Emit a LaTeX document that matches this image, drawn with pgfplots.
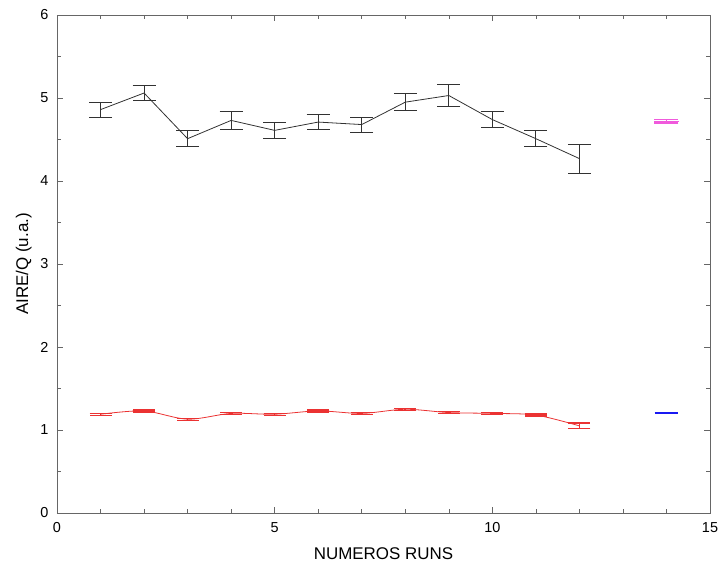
\documentclass[border=0pt]{standalone}
\usepackage{pgfplots}
\pgfplotsset{compat=1.18}
\usepackage{fontspec}
\setmainfont{Liberation Sans}
\definecolor{darkln}{RGB}{50,50,50}
\definecolor{redln}{RGB}{235,50,50}
\definecolor{magln}{RGB}{240,90,220}
\definecolor{bluepnt}{rgb}{0.1,0.1,0.95}
\begin{document}
\begin{tikzpicture}
\begin{axis}[
  at={(0,0)}, anchor=south west,
  scale only axis, width=653bp, height=498bp,
  xmin=0, xmax=15, ymin=0, ymax=6,
  xtick={0,5,10,15}, ytick={0,1,2,3,4,5,6},
  minor xtick={1,2,3,4,6,7,8,9,11,12,13,14},
  minor ytick={0.5,1.5,2.5,3.5,4.5,5.5},
  tick align=inside,
  major tick length=6bp, minor tick length=4bp,
  axis line style={draw=gray!80!black, line width=0.8pt},
  every tick/.style={gray!80!black, line width=0.6pt},
  /pgf/number format/assume math mode=true,
  tick label style={font=\fontsize{14.5}{16}\selectfont},
  xticklabel style={yshift=-6bp},
  yticklabel style={xshift=-5bp},
  label style={font=\fontsize{17}{19}\selectfont},
  xlabel={NUMEROS RUNS},
  ylabel={AIRE/Q (u.a.)},
  xlabel style={yshift=-8bp},
  ylabel style={yshift=2bp},
  clip=false,
]
% black series
\addplot[darkln, line width=0.8pt, mark=none,
  error bars/.cd, y dir=both, y explicit,
  error bar style={darkln, line width=0.8pt},
  error mark options={rotate=90, mark size=11.5bp, line width=0.8pt, darkln}]
coordinates {
 (1,4.86) +- (0,0.09)
 (2,5.06) +- (0,0.09)
 (3,4.51) +- (0,0.095)
 (4,4.73) +- (0,0.11)
 (5,4.61) +- (0,0.094)
 (6,4.71) +- (0,0.09)
 (7,4.68) +- (0,0.09)
 (8,4.95) +- (0,0.10)
 (9,5.03) +- (0,0.13)
 (10,4.74) +- (0,0.094)
 (11,4.51) +- (0,0.094)
 (12,4.27) +- (0,0.175)
};
% red series smooth line
\addplot[redln, line width=0.8pt, smooth, mark=none] coordinates {
 (1,1.19) (2,1.23) (3,1.13) (4,1.20) (5,1.19) (6,1.23) (7,1.20)
 (8,1.25) (9,1.21) (10,1.20) (11,1.18) (12,1.05)
};
\addplot[draw=none, mark=none,
  error bars/.cd, y dir=both, y explicit,
  error bar style={redln, line width=1.6pt},
  error mark options={rotate=90, mark size=11bp, line width=1.2pt, redln}]
coordinates {
 (1,1.19) +- (0,0.012)
 (2,1.23) +- (0,0.012)
 (3,1.13) +- (0,0.012)
 (4,1.20) +- (0,0.012)
 (5,1.19) +- (0,0.012)
 (6,1.23) +- (0,0.012)
 (7,1.20) +- (0,0.012)
 (8,1.25) +- (0,0.012)
 (9,1.21) +- (0,0.012)
 (10,1.20) +- (0,0.012)
 (11,1.18) +- (0,0.012)
 (12,1.05) +- (0,0.035)
};
% magenta point
\addplot[draw=none, mark=none,
  error bars/.cd, y dir=both, y explicit,
  error bar style={magln, line width=1.4pt},
  error mark options={rotate=90, mark size=12bp, line width=1.4pt, magln}]
coordinates {(14,4.72) +- (0,0.02)};
\addplot[magln, line width=1.4pt, mark=none] coordinates {(13.72,4.72) (14.28,4.72)};
% blue point
\addplot[draw=bluepnt, color=bluepnt, line width=2pt, mark=none] coordinates {(13.73,1.20) (14.27,1.20)};
\end{axis}
\pgfresetboundingbox
\path[use as bounding box] (-57bp,-50bp) rectangle (662bp,513bp);
\end{tikzpicture}
\end{document}
